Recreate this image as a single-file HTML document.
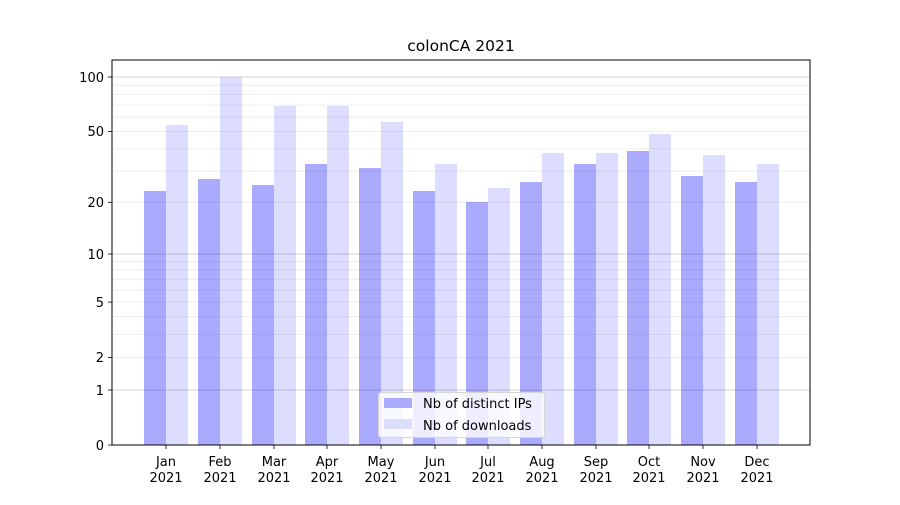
<!DOCTYPE html>
<html><head><meta charset="utf-8"><style>
body{margin:0;background:#fff}
svg text{font-family:"DejaVu Sans","Liberation Sans",sans-serif;font-size:13px;fill:#000}
</style></head><body>
<svg width="900" height="500" xmlns="http://www.w3.org/2000/svg">
<rect width="900" height="500" fill="#fff"/>
<g fill="#aaaaff">
<rect x="144" y="191" width="22" height="254"/><rect x="198" y="179" width="22" height="266"/>
<rect x="252" y="185" width="22" height="260"/><rect x="305" y="164" width="22" height="281"/>
<rect x="359" y="168" width="22" height="277"/><rect x="413" y="191" width="22" height="254"/>
<rect x="466" y="202" width="22" height="243"/><rect x="520" y="182" width="22" height="263"/>
<rect x="574" y="164" width="22" height="281"/><rect x="627" y="151" width="22" height="294"/>
<rect x="681" y="176" width="22" height="269"/><rect x="735" y="182" width="22" height="263"/>
</g>
<g fill="#ddddff">
<rect x="166" y="125" width="22" height="320"/><rect x="220" y="77" width="22" height="368"/>
<rect x="274" y="106" width="22" height="339"/><rect x="327" y="106" width="22" height="339"/>
<rect x="381" y="122" width="22" height="323"/><rect x="435" y="164" width="22" height="281"/>
<rect x="488" y="188" width="22" height="257"/><rect x="542" y="153" width="22" height="292"/>
<rect x="596" y="153" width="22" height="292"/><rect x="649" y="134" width="22" height="311"/>
<rect x="703" y="155" width="22" height="290"/><rect x="757" y="164" width="22" height="281"/>
</g>
<g stroke="#000" stroke-opacity="0.08" stroke-width="0.8">
<line x1="112" x2="810" y1="357.4" y2="357.4"/><line x1="112" x2="810" y1="334.5" y2="334.5"/>
<line x1="112" x2="810" y1="316.7" y2="316.7"/><line x1="112" x2="810" y1="302.1" y2="302.1"/>
<line x1="112" x2="810" y1="289.8" y2="289.8"/><line x1="112" x2="810" y1="279.2" y2="279.2"/>
<line x1="112" x2="810" y1="269.8" y2="269.8"/><line x1="112" x2="810" y1="261.4" y2="261.4"/>
<line x1="112" x2="810" y1="202.3" y2="202.3"/><line x1="112" x2="810" y1="171.2" y2="171.2"/>
<line x1="112" x2="810" y1="148.9" y2="148.9"/><line x1="112" x2="810" y1="131.4" y2="131.4"/>
<line x1="112" x2="810" y1="117.2" y2="117.2"/><line x1="112" x2="810" y1="105.1" y2="105.1"/>
<line x1="112" x2="810" y1="94.6" y2="94.6"/><line x1="112" x2="810" y1="85.3" y2="85.3"/>
</g>
<g stroke="#000" stroke-opacity="0.22" stroke-width="0.8">
<line x1="112" x2="810" y1="390" y2="390"/><line x1="112" x2="810" y1="254" y2="254"/><line x1="112" x2="810" y1="77" y2="77"/>
</g>
<rect x="112" y="60" width="698" height="385" fill="none" stroke="#000" stroke-width="1"/>
<g stroke="#000" stroke-width="0.8">
<line x1="108" x2="112" y1="445" y2="445"/><line x1="108" x2="112" y1="390" y2="390"/>
<line x1="108" x2="112" y1="357.4" y2="357.4"/><line x1="108" x2="112" y1="302.1" y2="302.1"/>
<line x1="108" x2="112" y1="254" y2="254"/><line x1="108" x2="112" y1="202.3" y2="202.3"/>
<line x1="108" x2="112" y1="131.4" y2="131.4"/><line x1="108" x2="112" y1="77" y2="77"/>
</g>
<g text-anchor="end">
<text x="104" y="450">0</text><text x="104" y="395">1</text><text x="104" y="362">2</text>
<text x="104" y="307">5</text><text x="104" y="259">10</text><text x="104" y="207">20</text>
<text x="104" y="136">50</text><text x="104" y="82">100</text>
</g>
<g stroke="#000" stroke-width="0.8">
<line x1="166" x2="166" y1="445" y2="449"/><line x1="220" x2="220" y1="445" y2="449"/>
<line x1="274" x2="274" y1="445" y2="449"/><line x1="327" x2="327" y1="445" y2="449"/>
<line x1="381" x2="381" y1="445" y2="449"/><line x1="435" x2="435" y1="445" y2="449"/>
<line x1="488" x2="488" y1="445" y2="449"/><line x1="542" x2="542" y1="445" y2="449"/>
<line x1="596" x2="596" y1="445" y2="449"/><line x1="649" x2="649" y1="445" y2="449"/>
<line x1="703" x2="703" y1="445" y2="449"/><line x1="757" x2="757" y1="445" y2="449"/>
</g>
<g text-anchor="middle">
<text x="166" y="466">Jan</text><text x="166" y="482">2021</text>
<text x="220" y="466">Feb</text><text x="220" y="482">2021</text>
<text x="274" y="466">Mar</text><text x="274" y="482">2021</text>
<text x="327" y="466">Apr</text><text x="327" y="482">2021</text>
<text x="381" y="466">May</text><text x="381" y="482">2021</text>
<text x="435" y="466">Jun</text><text x="435" y="482">2021</text>
<text x="488" y="466">Jul</text><text x="488" y="482">2021</text>
<text x="542" y="466">Aug</text><text x="542" y="482">2021</text>
<text x="596" y="466">Sep</text><text x="596" y="482">2021</text>
<text x="649" y="466">Oct</text><text x="649" y="482">2021</text>
<text x="703" y="466">Nov</text><text x="703" y="482">2021</text>
<text x="757" y="466">Dec</text><text x="757" y="482">2021</text>
<text x="461" y="51" style="font-size:15.5px">colonCA 2021</text>
</g>
<rect x="378.5" y="392.5" width="166" height="45" rx="3" fill="#fff" fill-opacity="0.8" stroke="#d6d6d6"/>
<rect x="384" y="398" width="28" height="10" fill="#aaaaff"/>
<rect x="384" y="419" width="28" height="10" fill="#ddddff"/>
<text x="423" y="408">Nb of distinct IPs</text>
<text x="423" y="430">Nb of downloads</text>
</svg>
</body></html>
